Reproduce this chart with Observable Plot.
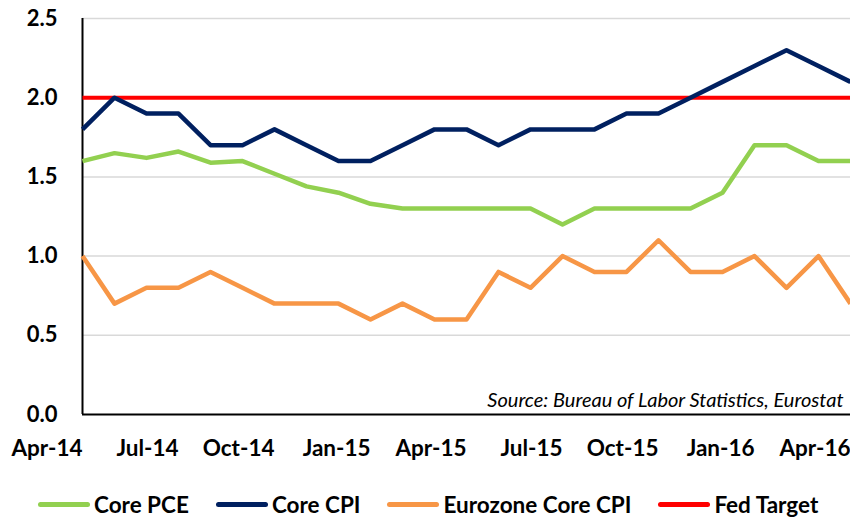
<!DOCTYPE html>
<html>
<head>
<meta charset="utf-8">
<script src="https://cdn.jsdelivr.net/npm/d3@7"></script>
<script src="https://cdn.jsdelivr.net/npm/@observablehq/plot@0.6"></script>
<style>
  body { margin: 0; background: #fff; font-family: Lato, "Open Sans", sans-serif; }
  #chart svg { display: block; }
  .legend { display: flex; align-items: center; margin-left: 38px; margin-top: 21px; height: 26px; white-space: nowrap; }
  .item { display: flex; align-items: center; flex-shrink: 0; margin-right: 27px; font-weight: bold; font-size: 22.5px; color: #000; white-space: nowrap; }
  .swatch { width: 52px; height: 5px; border-radius: 3px; margin-right: 4px; flex-shrink: 0; }
</style>
</head>
<body>
<div id="chart"></div>
<div class="legend" id="legend"></div>
<script>
const months = ["Apr-14","May-14","Jun-14","Jul-14","Aug-14","Sep-14","Oct-14","Nov-14","Dec-14",
  "Jan-15","Feb-15","Mar-15","Apr-15","May-15","Jun-15","Jul-15","Aug-15","Sep-15","Oct-15","Nov-15","Dec-15",
  "Jan-16","Feb-16","Mar-16","Apr-16"];
const tickLabels = ["Apr-14","Jul-14","Oct-14","Jan-15","Apr-15","Jul-15","Oct-15","Jan-16","Apr-16"];
const yTicks = [0, 0.5, 1.0, 1.5, 2.0, 2.5];

const corePCE = [1.6,1.65,1.62,1.66,1.59,1.6,1.52,1.44,1.4,1.33,1.3,1.3,1.3,1.3,1.3,1.2,1.3,1.3,1.3,1.3,1.4,1.7,1.7,1.6,1.6];
const coreCPI = [1.8,2.0,1.9,1.9,1.7,1.7,1.8,1.7,1.6,1.6,1.7,1.8,1.8,1.7,1.8,1.8,1.8,1.9,1.9,2.0,2.1,2.2,2.3,2.2,2.1];
const euroCPI = [1.0,0.7,0.8,0.8,0.9,0.8,0.7,0.7,0.7,0.6,0.7,0.6,0.6,0.9,0.8,1.0,0.9,0.9,1.1,0.9,0.9,1.0,0.8,1.0,0.7];
const fedTarget = months.map(() => 2.0);

const seriesNames = ["Core PCE", "Core CPI", "Eurozone Core CPI", "Fed Target"];
const seriesColors = ["#92D050", "#002060", "#F79646", "#FF0000"];
const seriesValues = [corePCE, coreCPI, euroCPI, fedTarget];
const sourceText = "Source: Bureau of Labor Statistics, Eurostat";

const rows = [];
seriesNames.forEach((name, s) => {
  seriesValues[s].forEach((v, i) => rows.push({series: name, month: months[i], value: v}));
});
const drawOrder = ["Fed Target", "Core PCE", "Eurozone Core CPI", "Core CPI"];

const chart = Plot.plot({
  width: 850,
  height: 470,
  marginLeft: 82,
  marginRight: 0,
  marginTop: 18,
  marginBottom: 56,
  style: { fontFamily: "Lato, 'Open Sans', sans-serif", background: "#fff", overflow: "visible" },
  x: { type: "point", domain: months, padding: 0 },
  y: { domain: [0, 2.5] },
  color: { domain: seriesNames, range: seriesColors },
  marks: [
    Plot.gridY([0.5, 1.0, 1.5, 2.0, 2.5], { stroke: "#d9d9d9", strokeOpacity: 1, strokeWidth: 1.5 }),
    Plot.axisY(yTicks, { tickSize: 0, tickPadding: 25, tickFormat: d => d.toFixed(1), fontSize: 22, fontWeight: "bold", fill: "#000", label: null }),
    Plot.axisX(tickLabels, { tickSize: 0, tickPadding: 26, textAnchor: "end", fontSize: 22.5, fontWeight: "bold", fill: "#000", label: null }),
    Plot.ruleY([0], { stroke: "#000", strokeWidth: 2 }),
    Plot.ruleX([months[0]], { stroke: "#000", strokeWidth: 2 }),
    ...drawOrder.map(name => Plot.line(rows.filter(r => r.series === name), {
      x: "month", y: "value", stroke: "series",
      strokeWidth: name === "Fed Target" ? 4 : 4.5, strokeLinejoin: "round", strokeLinecap: "butt"
    })),
    Plot.text([sourceText], { text: d => d, frameAnchor: "bottom-right", textAnchor: "end", lineAnchor: "bottom", dx: -7, dy: -8, fontStyle: "italic", fontSize: 20, fill: "#000" })
  ]
});
document.getElementById("chart").appendChild(chart);

const legend = document.getElementById("legend");
seriesNames.forEach((name, i) => {
  const item = document.createElement("div");
  item.className = "item";
  const sw = document.createElement("span");
  sw.className = "swatch";
  sw.style.background = seriesColors[i];
  const label = document.createElement("span");
  label.textContent = name;
  item.appendChild(sw);
  item.appendChild(label);
  legend.appendChild(item);
});
</script>
</body>
</html>
